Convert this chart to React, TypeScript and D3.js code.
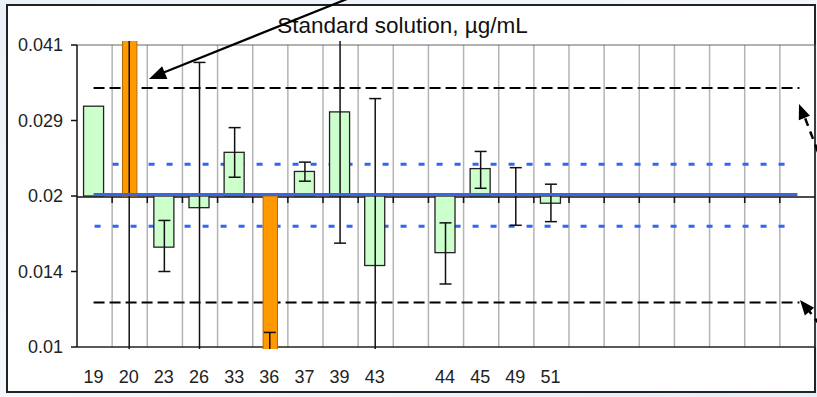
import React from "react";
import * as d3 from "d3";

const categories = ["19", "20", "23", "26", "33", "36", "37", "39", "43", "", "44", "45", "49", "51", "", "", "", "", "", "", ""];
const barValues: (number | null)[] = [0.0306, null, 0.0159, 0.0191, 0.0247, null, 0.0226, 0.0298, 0.0146, null, 0.0155, 0.0229, null, 0.0195];
const outlierValues: (number | null)[] = [null, 0.06, null, null, null, 0.008, null, null, null, null, null, null, null, null];
const errLow: (number | null)[] = [null, 0.008, 0.0142, 0.008, 0.022, 0.008, 0.0216, 0.0162, 0.008, null, 0.0134, 0.0209, 0.0176, 0.0179];
const errHigh: (number | null)[] = [null, 0.06, 0.018, 0.0375, 0.0277, 0.0107, 0.0236, 0.06, 0.0317, null, 0.0178, 0.0248, 0.023, 0.0213];
const yTickValues = [0.01, 0.0142, 0.020164, 0.028633, 0.040659];
const yTickLabels = ["0.01", "0.014", "0.02", "0.029", "0.041"];
const baseline = 0.020164;
const meanValue = 0.0203;
const innerLimits = [0.01752, 0.02336];
const outerLimits = [0.0123, 0.0333];
const title = "Standard solution, µg/mL";

const W = 817;
const H = 397;
const L = 77, R = 815, T = 45, B = 347;
const FONT = "Arial, 'Liberation Sans', sans-serif";

function arrowHead(tip: [number, number], from: [number, number], len: number, wid: number) {
  const dx = tip[0] - from[0], dy = tip[1] - from[1];
  const d = Math.hypot(dx, dy);
  const ux = dx / d, uy = dy / d;
  const bx = tip[0] - ux * len, by = tip[1] - uy * len;
  const px = -uy * wid / 2, py = ux * wid / 2;
  return `${tip[0]},${tip[1]} ${bx + px},${by + py} ${bx - px},${by - py}`;
}

export default function App() {
  const x = d3.scaleBand<number>().domain(categories.map((_, i) => i)).range([L, R]).padding(0);
  const y = d3.scaleLog().domain([0.01, 0.040659]).range([B, T]);
  const bw = x.bandwidth();
  const cx = (i: number) => (x(i) as number) + bw / 2;
  const first = cx(0), last = cx(categories.length - 1);
  const y0 = y(baseline);

  const boundaries = categories.map((_, i) => x(i) as number).slice(1);

  return (
    <svg width={W} height={H} style={{ position: "absolute", left: 0, top: 0, fontFamily: FONT }}>
      <defs>
        <clipPath id="plotClip">
          <rect x={L} y={41} width={R - L} height={349 - 41} />
        </clipPath>
        <linearGradient id="bg" x1="0" y1="0" x2="1" y2="1">
          <stop offset="0" stopColor="#eaf1f8" />
          <stop offset="0.5" stopColor="#f4f8fc" />
          <stop offset="1" stopColor="#e6eef7" />
        </linearGradient>
      </defs>
      <rect x={0} y={0} width={W} height={H} fill="url(#bg)" />
      <rect x={7} y={5} width={808} height={387} fill="#fff" stroke="#222" strokeWidth={2} />

      {/* vertical gridlines */}
      {boundaries.map((b, i) => (
        <line key={"g" + i} x1={b} x2={b} y1={T} y2={B} stroke="#b4b4b4" strokeWidth={1.5} />
      ))}
      {/* plot border */}
      <line x1={L} x2={R} y1={T} y2={T} stroke="#666" strokeWidth={1.2} />
      <line x1={R} x2={R} y1={T} y2={B} stroke="#444" strokeWidth={1.5} />
      <line x1={L} x2={R} y1={B} y2={B} stroke="#222" strokeWidth={1.5} />

      {/* reference lines */}
      {outerLimits.map((v, i) => (
        <line key={"o" + i} x1={first - 1} x2={last + 2} y1={y(v)} y2={y(v)} stroke="#000" strokeWidth={2} strokeDasharray="11,5" />
      ))}
      {innerLimits.map((v, i) => (
        <line key={"in" + i} x1={first} x2={last - 8} y1={y(v)} y2={y(v)} stroke="#3366ee" strokeWidth={3} strokeDasharray="6,12" />
      ))}

      {/* x axis at baseline */}
      <line x1={L} x2={R} y1={y0 + 1} y2={y0 + 1} stroke="#111" strokeWidth={1.5} />
      {boundaries.map((b, i) => (
        <line key={"t" + i} x1={b} x2={b} y1={y0 + 1} y2={y0 + 7} stroke="#111" strokeWidth={1.5} />
      ))}

      <g clipPath="url(#plotClip)">
        {/* green bars */}
        {barValues.map((v, i) =>
          v == null ? null : (
            <rect key={"b" + i} x={cx(i) - bw * 0.285 - 1} width={bw * 0.57} y={Math.min(y(v), y0)} height={Math.abs(y(v) - y0)}
              fill="#ccffcc" stroke="#222" strokeWidth={1.3} />
          )
        )}
        {/* outlier bars */}
        {outlierValues.map((v, i) =>
          v == null ? null : (
            <rect key={"ob" + i} x={cx(i) - bw * 0.205} width={bw * 0.41} y={Math.min(y(v), y0)} height={Math.abs(y(v) - y0)}
              fill="#ff9900" stroke="#b36b00" strokeWidth={1} />
          )
        )}
        {/* error bars */}
        {errLow.map((lo, i) => {
          const hi = errHigh[i];
          if (lo == null || hi == null) return null;
          const c = cx(i) - 0.5;
          return (
            <g key={"e" + i} stroke="#111" strokeWidth={1.5}>
              <line x1={c} x2={c} y1={y(hi)} y2={y(lo)} />
              <line x1={c - 6} x2={c + 6} y1={y(hi)} y2={y(hi)} />
              <line x1={c - 6} x2={c + 6} y1={y(lo)} y2={y(lo)} />
            </g>
          );
        })}
      </g>

      {/* mean line */}
      <line x1={first - 1} x2={last} y1={y(meanValue)} y2={y(meanValue)} stroke="#3a66e6" strokeWidth={3} />

      {/* y axis */}
      <line x1={L} x2={L} y1={T} y2={B} stroke="#111" strokeWidth={1.5} />
      {yTickValues.map((v, i) => (
        <g key={"yt" + i}>
          <line x1={L - 6} x2={L} y1={y(v)} y2={y(v)} stroke="#111" strokeWidth={1.5} />
          <text x={63} y={y(v)} dy="0.36em" textAnchor="end" fontSize={18} fill="#222">{yTickLabels[i]}</text>
        </g>
      ))}

      {/* x labels */}
      {categories.map((c, i) => (
        <text key={"xl" + i} x={cx(i) - 1} y={383} textAnchor="middle" fontSize={18} fill="#222">{c}</text>
      ))}

      {/* title */}
      <text x={402.5} y={33} textAnchor="middle" fontSize={22.5} fill="#111">{title}</text>

      {/* annotation arrows */}
      <line x1={347} y1={-1} x2={160} y2={74} stroke="#000" strokeWidth={2.2} />
      <polygon points={arrowHead([149, 79], [347, -1], 17, 14)} fill="#000" />

      <line x1={818} y1={152} x2={802} y2={110} stroke="#000" strokeWidth={2.5} strokeDasharray="8,6" />
      <polygon points={arrowHead([799, 104], [816, 148], 15, 12)} fill="#000" />

      <line x1={820} y1={325} x2={806} y2={307} stroke="#000" strokeWidth={2.5} strokeDasharray="8,6" />
      <polygon points={arrowHead([800, 300], [818, 322], 15, 12)} fill="#000" />
    </svg>
  );
}
